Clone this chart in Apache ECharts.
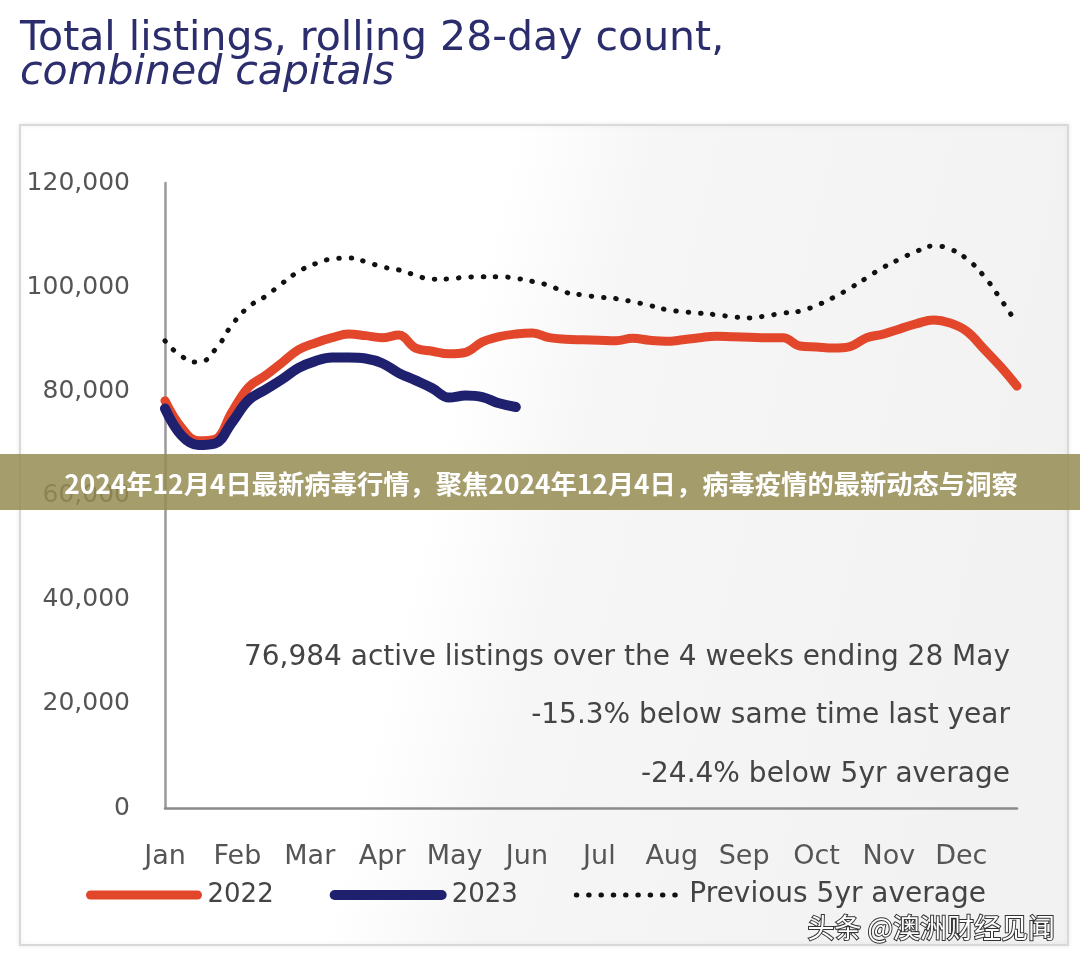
<!DOCTYPE html>
<html>
<head>
<meta charset="utf-8">
<style>
html,body{margin:0;padding:0;background:#fff;}
#chart{width:1080px;height:966px;}
</style>
<script src="https://cdn.jsdelivr.net/npm/echarts@6/dist/echarts.min.js"></script>
</head>
<body>
<div id="chart"></div>
<script>
// Month tick labels (x axis runs over 52 weekly points, Jan..Dec)
var monthLabels = ['Jan','Feb','Mar','Apr','May','Jun','Jul','Aug','Sep','Oct','Nov','Dec'];
var yTicks = [0, 20000, 40000, 60000, 80000, 100000, 120000];

// Weekly rolling 28-day counts
var series2022 = [78200,73000,70500,70800,76000,80800,83000,85500,88000,89300,90300,91000,90700,90300,90800,88300,87700,87200,87500,89500,90500,91000,91200,90300,90000,89900,89800,89700,90200,89800,89600,89900,90300,90600,90500,90400,90300,90300,88700,88500,88300,88600,90300,91000,92000,93000,93700,93100,91500,88200,84800,81000];
var series2023 = [76700,71500,69700,70000,74000,78300,80300,82300,84500,85800,86500,86500,86300,85400,83500,82100,80600,78800,79200,78900,77700,76984];
var series5yr  = [89700,86700,85600,88000,92700,96200,98200,100700,103000,104500,105400,105600,104900,103900,103300,102300,101500,101600,101900,102000,102000,101700,101100,100300,99000,98500,98100,97800,97200,96500,95700,95300,95000,94700,94300,94100,94500,95000,95400,96500,98000,99800,101800,103800,105400,106900,107900,107300,105400,102200,97800,93000];

var seriesNames = ['2022','2023','Previous 5yr average'];
var annotations = ['76,984 active listings over the 4 weeks ending 28 May','-15.3% below same time last year','-24.4% below 5yr average'];
var titleLine1 = 'Total listings, rolling 28-day count,';
var titleLine2 = 'combined capitals';
var bannerText = '2024年12月4日最新病毒行情，聚焦2024年12月4日，病毒疫情的最新动态与洞察';
var watermark = '头条 @澳洲财经见闻';

function pairs(arr){ return arr.map(function(v,i){ return [i,v]; }); }
var MONTH_STEP = 52/12;
var FONT = '"DejaVu Sans", sans-serif';

var chart = echarts.init(document.getElementById('chart'));
chart.setOption({
  backgroundColor: '#ffffff',
  animation: false,
  grid: { left: 165, right: 63, top: 183, bottom: 158, containLabel: false },
  xAxis: {
    type: 'value', min: 0, max: 51, interval: MONTH_STEP,
    axisLine: { show: true, lineStyle: { color: '#8a8a8a', width: 2.5 } },
    axisTick: { show: false },
    splitLine: { show: false },
    axisLabel: {
      margin: 35, fontSize: 27, color: '#555', fontFamily: FONT, showMaxLabel: false,
      formatter: function(v){
        var k = v / MONTH_STEP, r = Math.round(k);
        if (Math.abs(k - r) > 0.01 || r < 0 || r > 11) return '';
        return monthLabels[r];
      }
    }
  },
  yAxis: {
    type: 'value', min: yTicks[0], max: yTicks[yTicks.length-1], interval: 20000,
    axisLine: { show: true, lineStyle: { color: '#9a9a9a', width: 2.5 } },
    axisTick: { show: false },
    splitLine: { show: false },
    axisLabel: {
      margin: 35, fontSize: 25, color: '#555', fontFamily: FONT,
      formatter: function(v){ return v.toLocaleString('en-US'); }
    }
  },
  legend: {
    left: 81, top: 876, itemWidth: 107, itemHeight: 10, itemGap: 56,
    itemStyle: { opacity: 0 },
    lineStyle: { width: 'inherit', type: 'inherit', cap: 'round' },
    textStyle: { fontSize: 26, color: '#444', fontFamily: FONT, padding: [0,0,0,5] },
    data: [
      { name: seriesNames[0] },
      { name: seriesNames[1], textStyle: { padding: [0,10,0,5] } },
      { name: seriesNames[2], textStyle: { fontSize: 28, padding: [0,0,0,1] } }
    ]
  },
  series: [
    { name: seriesNames[2], type: 'line', data: pairs(series5yr), smooth: 0.5, symbol: 'none', z: 1,
      itemStyle: { color: '#111' },
      lineStyle: { color: '#111', width: 5, type: [0.5, 11.8], cap: 'round' } },
    { name: seriesNames[0], type: 'line', data: pairs(series2022), smooth: 0.4, symbol: 'none', z: 2,
      itemStyle: { color: '#e2462b' },
      lineStyle: { color: '#e2462b', width: 9, cap: 'round', join: 'round' } },
    { name: seriesNames[1], type: 'line', data: pairs(series2023), smooth: 0.4, symbol: 'none', z: 3,
      itemStyle: { color: '#1f206e' },
      lineStyle: { color: '#1f206e', width: 10, cap: 'round', join: 'round' } }
  ],
  graphic: [
    { type: 'rect', z: -10, silent: true,
      shape: { x: 20, y: 125, width: 1048, height: 820 },
      style: { fill: new echarts.graphic.LinearGradient(0,0,1,0.3,[{offset:0,color:'#ffffff'},{offset:0.45,color:'#ffffff'},{offset:0.58,color:'#f6f6f6'},{offset:1,color:'#f2f2f2'}]),
               stroke: '#d9d9d9', lineWidth: 2, shadowColor: 'rgba(0,0,0,0.08)', shadowBlur: 4 } },
    { type: 'text', left: 20, top: 19, z: 10,
      style: { text: titleLine1, fontSize: 41, fontFamily: FONT, fill: '#2b2d6c' } },
    { type: 'text', left: 20, top: 53, z: 10,
      style: { text: titleLine2, fontSize: 41, fontStyle: 'italic', fontFamily: FONT, fill: '#2b2d6c' } },
    { type: 'text', x: 1010, y: 658, z: 10,
      style: { text: annotations[0], fontSize: 28, fontFamily: FONT, fill: '#444', align: 'right', verticalAlign: 'middle' } },
    { type: 'text', x: 1010, y: 716, z: 10,
      style: { text: annotations[1], fontSize: 28, fontFamily: FONT, fill: '#444', align: 'right', verticalAlign: 'middle' } },
    { type: 'text', x: 1010, y: 775, z: 10,
      style: { text: annotations[2], fontSize: 28, fontFamily: FONT, fill: '#444', align: 'right', verticalAlign: 'middle' } },
    { type: 'rect', z: 100, silent: true,
      shape: { x: 0, y: 454, width: 1080, height: 56 },
      style: { fill: 'rgba(150,140,84,0.85)' } },
    { type: 'text', x: 541, y: 484, z: 101,
      style: { text: bannerText, fontSize: 26.3, fontWeight: 'bold', fontFamily: '"Noto Sans CJK SC", sans-serif', fill: '#ffffff', align: 'center', verticalAlign: 'middle' } },
    { type: 'text', x: 1055, y: 928, z: 101,
      style: { text: watermark, fontSize: 27, fontFamily: '"Noto Sans CJK SC", sans-serif', fill: '#ffffff', stroke: '#333', lineWidth: 2, align: 'right', verticalAlign: 'middle' } }
  ]
});
</script>
</body>
</html>
